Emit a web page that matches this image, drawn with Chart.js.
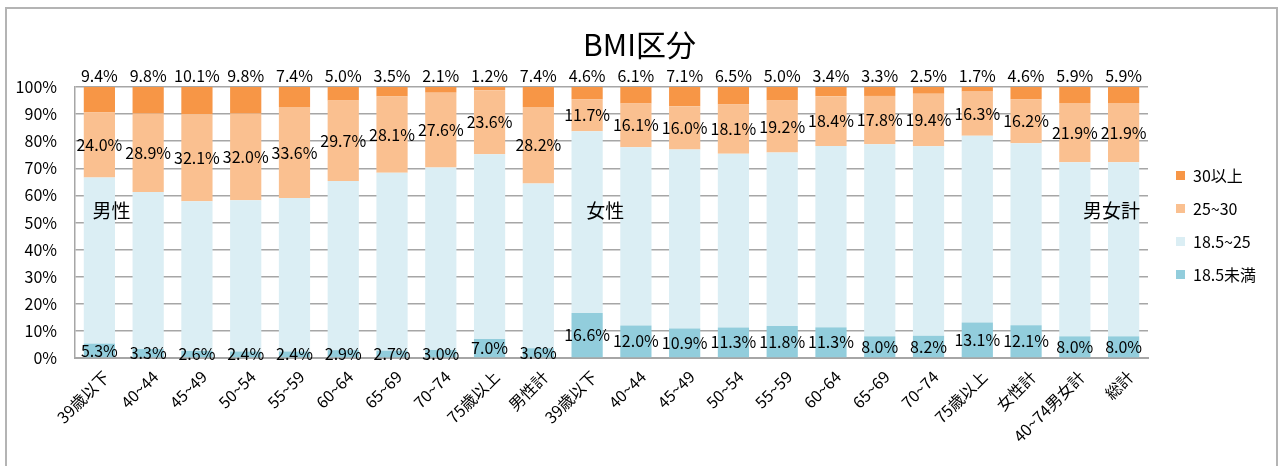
<!DOCTYPE html>
<html>
<head>
<meta charset="utf-8">
<script src="https://cdn.jsdelivr.net/npm/chart.js@4/dist/chart.umd.min.js"></script>
<style>
  html, body { margin: 0; padding: 0; background: #fff; }
  #wrap { position: relative; width: 1279px; height: 466px; }
</style>
</head>
<body>
<div id="wrap"><canvas id="bmiChart"></canvas></div>
<script>
let labels = ['39歳以下', '40~44', '45~49', '50~54', '55~59', '60~64', '65~69', '70~74', '75歳以上', '男性計',
              '39歳以下', '40~44', '45~49', '50~54', '55~59', '60~64', '65~69', '70~74', '75歳以上', '女性計',
              '40~74男女計', '総計'];

let under185 = [5.3, 3.3, 2.6, 2.4, 2.4, 2.9, 2.7, 3.0, 7.0, 3.6,
                16.6, 12.0, 10.9, 11.3, 11.8, 11.3, 8.0, 8.2, 13.1, 12.1, 8.0, 8.0];
let normal = [61.3, 58.0, 55.2, 55.8, 56.6, 62.4, 65.7, 67.3, 68.2, 60.8,
              67.1, 65.8, 66.0, 64.1, 64.0, 66.9, 70.9, 69.9, 68.9, 67.1, 64.2, 64.2];
let over25 = [24.0, 28.9, 32.1, 32.0, 33.6, 29.7, 28.1, 27.6, 23.6, 28.2,
              11.7, 16.1, 16.0, 18.1, 19.2, 18.4, 17.8, 19.4, 16.3, 16.2, 21.9, 21.9];
let over30 = [9.4, 9.8, 10.1, 9.8, 7.4, 5.0, 3.5, 2.1, 1.2, 7.4,
              4.6, 6.1, 7.1, 6.5, 5.0, 3.4, 3.3, 2.5, 1.7, 4.6, 5.9, 5.9];

let seriesNames = ['18.5未満', '18.5~25', '25~30', '30以上'];
let colors = ['#92CDDC', '#DBEEF4', '#FAC090', '#F79646'];

// group captions drawn inside the plot: [text, category position]
let groupNotes = [['男性', 0.25], ['女性', 10.37], ['男女計', 20.75]];

const FONT = '"Noto Sans CJK JP", "Noto Sans", sans-serif';
Chart.defaults.font.family = FONT;
Chart.defaults.color = '#000';

// frame round the chart
const framePlugin = {
    id: 'frame',
    beforeDraw(chart) {
        const ctx = chart.ctx;
        ctx.save();
        ctx.strokeStyle = '#b4b4b4';
        ctx.lineWidth = 2;
        ctx.beginPath();
        ctx.moveTo(6, 500);
        ctx.lineTo(6, 8);
        ctx.lineTo(1277, 8);
        ctx.lineTo(1277, 500);
        ctx.stroke();
        ctx.restore();
    }
};

// value labels and group captions
const labelPlugin = {
    id: 'valueLabels',
    afterDatasetsDraw(chart) {
        const ctx = chart.ctx;
        ctx.save();
        ctx.fillStyle = '#000';
        ctx.font = '16px ' + FONT;
        ctx.textAlign = 'center';
        ctx.textBaseline = 'middle';
        [0, 2, 3].forEach(di => {
            const meta = chart.getDatasetMeta(di);
            const values = chart.data.datasets[di].data;
            meta.data.forEach((bar, i) => {
                const text = values[i].toFixed(1) + '%';
                let y = (bar.y + bar.base) / 2;
                if (di === 3) y = bar.y - 11;
                ctx.fillText(text, bar.x, y);
            });
        });
        const xs = chart.scales.x, ys = chart.scales.y;
        ctx.font = '19px ' + FONT;
        groupNotes.forEach(([text, pos]) => {
            const x0 = xs.getPixelForValue(Math.floor(pos));
            const x1 = xs.getPixelForValue(Math.floor(pos) + 1);
            const x = x0 + (x1 - x0) * (pos - Math.floor(pos));
            ctx.fillText(text, x, ys.getPixelForValue(54.5));
        });
        ctx.restore();
    }
};

// legend placement tweak
const legendShift = {
    id: 'legendShift',
    beforeInit(chart) {
        const legend = chart.legend;
        const fit = legend.fit;
        legend.fit = function () {
            fit.call(this);
            this.width = 131;
        };
        const draw = legend.draw;
        legend.draw = function () {
            this.ctx.save();
            this.ctx.translate(11, -8);
            draw.call(this);
            this.ctx.restore();
        };
    }
};

let ctx = document.getElementById('bmiChart').getContext('2d');

let chart = new Chart(ctx, {
    type: 'bar',
    data: {
        labels: labels,
        datasets: [under185, normal, over25, over30].map((d, i) => ({
            label: seriesNames[i],
            data: d,
            backgroundColor: colors[i],
            borderWidth: 0,
            barPercentage: 0.64,
            categoryPercentage: 1
        }))
    },
    plugins: [framePlugin, labelPlugin, legendShift],
    options: {
        responsive: true,
        maintainAspectRatio: false,
        animation: false,
        layout: { padding: 0 },
        scales: {
            x: {
                stacked: true,
                grid: { display: false, drawTicks: false },
                border: { color: '#a6a6a6', width: 2 },
                ticks: {
                    font: { size: 16 },
                    minRotation: 45,
                    maxRotation: 45,
                    autoSkip: false,
                    padding: 9,
                    labelOffset: 7
                },
                afterFit(scale) { scale.height = 108; }
            },
            y: {
                stacked: true,
                min: 0,
                max: 100,
                grid: { color: '#a6a6a6', lineWidth: 1.5, drawTicks: false },
                border: { color: '#a6a6a6', width: 1.5 },
                ticks: {
                    stepSize: 10,
                    font: { size: 16 },
                    padding: 18,
                    callback: v => v + '%'
                },
                afterFit(scale) { scale.width = 75; }
            }
        },
        plugins: {
            title: {
                display: true,
                text: 'BMI区分',
                font: { size: 30, weight: 'normal' },
                color: '#000',
                padding: { top: 27, bottom: 24 }
            },
            legend: {
                position: 'right',
                reverse: true,
                labels: {
                    boxWidth: 9,
                    boxHeight: 9,
                    padding: 17,
                    font: { size: 16 },
                    color: '#000'
                }
            },
            tooltip: { enabled: false }
        }
    }
});
</script>
</body>
</html>
